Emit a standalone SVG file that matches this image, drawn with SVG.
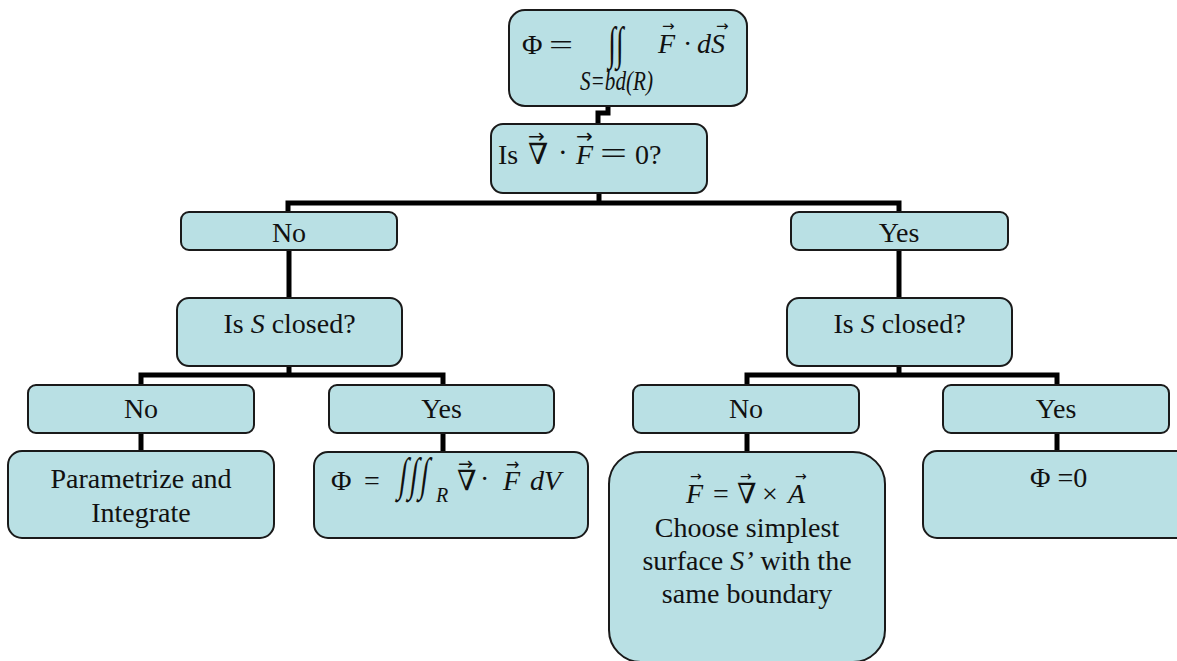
<svg xmlns="http://www.w3.org/2000/svg" width="1177" height="661" viewBox="0 0 1177 661">
<style>
.box{fill:#b9e0e4;stroke:#1a1a1a;stroke-width:2}
.t{font-family:"Liberation Serif","DejaVu Serif",serif;font-size:28px;fill:#111;text-anchor:middle}
.m{font-family:"Liberation Serif","DejaVu Serif",serif;font-size:28px;fill:#111}
.i{font-style:italic}
.arr{font-family:"DejaVu Sans",sans-serif;font-style:normal}
.conn{fill:none;stroke:#000;stroke-width:5;stroke-linejoin:miter}
</style>
<rect width="1177" height="661" fill="#fff"/>
<g id="connectors" class="conn">
<path d="M608,106 V113 H598 V124"/>
<path d="M599,193 V203"/>
<path d="M288,212 V203 H899 V212"/>
<path d="M289,250 V298"/>
<path d="M899,250 V298"/>
<path d="M289,366 V375"/>
<path d="M141,385 V375 H443 V385"/>
<path d="M899,366 V375"/>
<path d="M747,385 V375 H1057 V385"/>
<path d="M141,433 V451"/>
<path d="M443,433 V452"/>
<path d="M747,433 V452"/>
<path d="M1057,433 V451"/>
</g>
<g id="flux">
<rect class="box" x="509" y="10" width="238" height="96" rx="16"/>
<text class="m" font-size="34"><tspan x="522" y="54">Φ</tspan><tspan x="549" y="54" textLength="24" lengthAdjust="spacingAndGlyphs">=</tspan></text>
<text class="m" text-anchor="middle" font-size="50" transform="translate(616,59) scale(1,1.65)">∫∫</text>
<text class="m i" x="580" y="90" font-size="16" textLength="73" lengthAdjust="spacingAndGlyphs">S=bd(R)</text>
<text class="m" font-size="30"><tspan class="i" x="658" y="53">F</tspan><tspan class="arr" x="662" y="31" font-size="15">→</tspan><tspan x="683" y="53">·</tspan><tspan class="i" x="697" y="53">dS</tspan><tspan class="arr" x="716" y="31" font-size="15">→</tspan></text>
</g>
<g id="divtest">
<rect class="box" x="491" y="124" width="216" height="69" rx="12"/>
<text class="m" font-size="31"><tspan x="498" y="164">Is</tspan><tspan x="528" y="164" font-size="29">∇</tspan><tspan class="arr" x="528" y="143" font-size="20">→</tspan><tspan x="558" y="162" font-size="29">·</tspan><tspan class="i" x="576" y="164">F</tspan><tspan class="arr" x="576" y="143" font-size="20">→</tspan><tspan x="600" y="164" font-size="32" textLength="27" lengthAdjust="spacingAndGlyphs">=</tspan><tspan x="635" y="164">0?</tspan></text>
</g>
<g id="no1">
<rect class="box" x="181" y="212" width="216" height="38" rx="8"/>
<text class="t" x="289" y="242">No</text>
</g>
<g id="yes1">
<rect class="box" x="791" y="212" width="217" height="38" rx="8"/>
<text class="t" x="899" y="242">Yes</text>
</g>
<g id="closedL">
<rect class="box" x="177" y="298" width="225" height="68" rx="12"/>
<text class="t" x="289.5" y="333">Is <tspan class="i">S</tspan> closed?</text>
</g>
<g id="closedR">
<rect class="box" x="787" y="298" width="225" height="68" rx="12"/>
<text class="t" x="899.5" y="333">Is <tspan class="i">S</tspan> closed?</text>
</g>
<g id="noLL">
<rect class="box" x="28" y="385" width="226" height="48" rx="8"/>
<text class="t" x="141" y="418">No</text>
</g>
<g id="yesL">
<rect class="box" x="329" y="385" width="225" height="48" rx="8"/>
<text class="t" x="441.5" y="418">Yes</text>
</g>
<g id="noR">
<rect class="box" x="633" y="385" width="226" height="48" rx="8"/>
<text class="t" x="746" y="418">No</text>
</g>
<g id="yesR">
<rect class="box" x="943" y="385" width="226" height="48" rx="8"/>
<text class="t" x="1056" y="418">Yes</text>
</g>
<g id="param">
<rect class="box" x="8" y="451" width="266" height="87" rx="14"/>
<text class="t" x="141" y="488">Parametrize and</text>
<text class="t" x="141" y="522">Integrate</text>
</g>
<g id="divthm">
<rect class="box" x="314" y="452" width="274" height="86" rx="14"/>
<text class="m" font-size="30" letter-spacing="3" transform="translate(398,490) scale(1,1.65) skewX(-12)">∫∫∫</text>
<text class="m"><tspan x="331" y="490">Φ</tspan><tspan x="364" y="490">=</tspan><tspan class="i" x="436" y="502" font-size="20">R</tspan><tspan x="457" y="490">∇</tspan><tspan class="arr" x="458" y="470" font-size="18">→</tspan><tspan x="480" y="488">·</tspan><tspan class="i" x="503" y="490">F</tspan><tspan class="arr" x="506" y="470" font-size="16">→</tspan><tspan class="i" x="530" y="490">dV</tspan></text>
</g>
<g id="curl">
<rect class="box" x="609" y="452" width="276" height="210" rx="32"/>
<text class="m"><tspan class="i" x="686" y="503">F</tspan><tspan class="arr" x="690" y="481" font-size="14">→</tspan><tspan x="713" y="503">=</tspan><tspan x="737" y="503">∇</tspan><tspan class="arr" x="740" y="481" font-size="14">→</tspan><tspan x="762" y="503">×</tspan><tspan class="i" x="788" y="503">A</tspan><tspan class="arr" x="795" y="481" font-size="14">→</tspan></text>
<text class="t" x="747" y="537">Choose simplest</text>
<text class="t" x="747" y="570">surface <tspan class="i">S’</tspan> with the</text>
<text class="t" x="747" y="603">same boundary</text>
</g>
<g id="zero">
<rect class="box" x="923" y="451" width="270" height="87" rx="14"/>
<text class="m" x="1030" y="487">Φ =0</text>
</g>
</svg>
